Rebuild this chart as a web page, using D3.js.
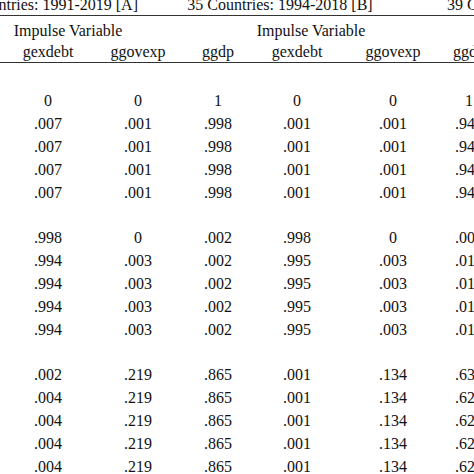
<!DOCTYPE html>
<html><head><meta charset="utf-8">
<script src="https://cdn.jsdelivr.net/npm/d3@7"></script>
<style>body{margin:0;background:#fff}svg{display:block}text{font-family:"Liberation Serif","Times New Roman",serif;fill:#111}</style>
</head><body><svg id="c" width="474" height="474"></svg>
<script>
const groupTitles = ["39 Countries: 1991-2019 [A]", "35 Countries: 1994-2018 [B]", "39 Countries: 1991-2018 [C]"];
const columns = ["gexdebt", "ggovexp", "ggdp", "gexdebt", "ggovexp", "ggdp"];
const block1 = [["0","0","1","0","0","1"],[".007",".001",".998",".001",".001",".941"],[".007",".001",".998",".001",".001",".941"],[".007",".001",".998",".001",".001",".941"],[".007",".001",".998",".001",".001",".941"]];
const block2 = [[".998","0",".002",".998","0",".002"],[".994",".003",".002",".995",".003",".012"],[".994",".003",".002",".995",".003",".012"],[".994",".003",".002",".995",".003",".012"],[".994",".003",".002",".995",".003",".012"]];
const block3 = [[".002",".219",".865",".001",".134",".631"],[".004",".219",".865",".001",".134",".627"],[".004",".219",".865",".001",".134",".627"],[".004",".219",".865",".001",".134",".627"],[".004",".219",".865",".001",".134",".627"]];

const svg = d3.select("#c");
const colX = d3.scaleOrdinal().domain(d3.range(6)).range([48,138,218,297,393,469]);
const fs = 16;
const titleX = d3.scaleOrdinal().domain([0,1,2]).range([138,280,447]);
const titleAnchor = ["end","middle","start"];
svg.selectAll("text.gt").data(groupTitles).join("text").attr("class","gt")
  .attr("x",(d,i)=>titleX(i)).attr("y",10).attr("text-anchor",(d,i)=>titleAnchor[i]).attr("font-size",fs).text(d=>d);
svg.append("line").attr("x1",0).attr("x2",474).attr("y1",15.5).attr("y2",15.5).attr("stroke","#333").attr("stroke-width",1.2);
svg.selectAll("text.iv").data([68,311]).join("text").attr("class","iv")
  .attr("x",d=>d).attr("y",36).attr("text-anchor","middle").attr("font-size",fs).text("Impulse Variable");
svg.selectAll("text.col").data(columns).join("text").attr("class","col")
  .attr("x",(d,i)=>colX(i)).attr("y",57).attr("text-anchor","middle").attr("font-size",fs).text(d=>d);
svg.append("line").attr("x1",0).attr("x2",474).attr("y1",62.5).attr("y2",62.5).attr("stroke","#333").attr("stroke-width",1.2);

const blocks = [block1, block2, block3];
const blockY = d3.scaleLinear().domain([0,1]).range([106,243]);
const rowY = d3.scaleLinear().domain([0,1]).range([0,23]);
blocks.forEach((b,bi)=>{
  const g = svg.append("g");
  b.forEach((row,ri)=>{
    g.selectAll(null).data(row).join("text")
      .attr("x",(d,i)=>colX(i)).attr("y",blockY(bi)+rowY(ri))
      .attr("text-anchor","middle").attr("font-size",fs).text(d=>d);
  });
});
</script></body></html>
